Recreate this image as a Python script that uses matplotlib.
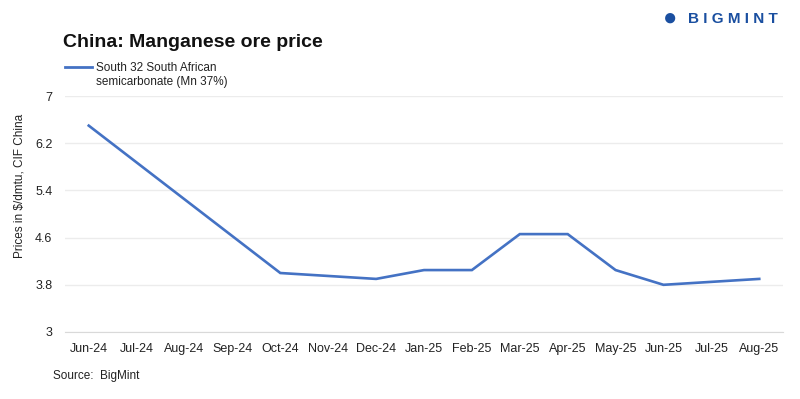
import matplotlib.pyplot as plt
import numpy as np

plt.rcParams['font.family'] = ['Liberation Sans', 'DejaVu Sans']

# Data (months without a value are bridged by the line)
months = ['Jun-24', 'Jul-24', 'Aug-24', 'Sep-24', 'Oct-24', 'Nov-24', 'Dec-24', 'Jan-25',
          'Feb-25', 'Mar-25', 'Apr-25', 'May-25', 'Jun-25', 'Jul-25', 'Aug-25']
prices = [6.5, None, None, None, 4.0, None, 3.9, 4.05,
          4.05, 4.66, 4.66, 4.05, 3.8, None, 3.9]
y_ticks = [3, 3.8, 4.6, 5.4, 6.2, 7]
series_name = 'South 32 South African\nsemicarbonate (Mn 37%)'

line_color = '#4472C4'
x_pos = [i for i, v in enumerate(prices) if v is not None]
y_val = [v for v in prices if v is not None]

fig = plt.figure(figsize=(8, 3.99), dpi=100)
ax = fig.add_axes([0.081, 0.168, 0.898, 0.591])

ax.plot(x_pos, y_val, color=line_color, linewidth=1.9, solid_joinstyle='miter')

ax.set_xlim(-0.5, len(months) - 0.5)
ax.set_ylim(3, 7)
ax.set_xticks(range(len(months)))
ax.set_xticklabels(months, fontsize=9, color='#222222')
ax.set_yticks(y_ticks)
ax.set_yticklabels([f'{t:g}' for t in y_ticks], fontsize=9, color='#222222')
ax.tick_params(length=0, pad=8)
ax.tick_params(axis='y', pad=9)

ax.grid(axis='y', color='#ececec', linewidth=1)
ax.set_axisbelow(True)
for s in ['top', 'right', 'left']:
    ax.spines[s].set_visible(False)
ax.spines['bottom'].set_color('#d9d9d9')

ax.set_ylabel('Prices in \\$/dmtu, CIF China', fontsize=8.5, color='#222222')
ax.yaxis.set_label_coords(-0.055, 0.62)

# Title and legend
fig.text(0.079, 0.893, 'China: Manganese ore price', fontsize=14, fontweight='bold',
         color='#111111', va='center')
fig.lines.append(plt.Line2D([0.081, 0.115], [0.832, 0.832], color=line_color,
                            linewidth=2, transform=fig.transFigure))
fig.text(0.12, 0.845, series_name, fontsize=8.5, color='#222222', va='top',
         linespacing=1.2, transform=fig.transFigure)

fig.text(0.066, 0.057, 'Source:  BigMint', fontsize=8.5, color='#222222', va='center')

# Logo
fig.text(0.838, 0.953, '\u25CF', fontsize=17, color='#1a4fa0', va='center', ha='center')
fig.text(0.86, 0.953, 'B I G M I N T', fontsize=11, fontweight='bold',
         color='#1a4fa0', va='center')

fig.savefig('out.png', dpi=100)
